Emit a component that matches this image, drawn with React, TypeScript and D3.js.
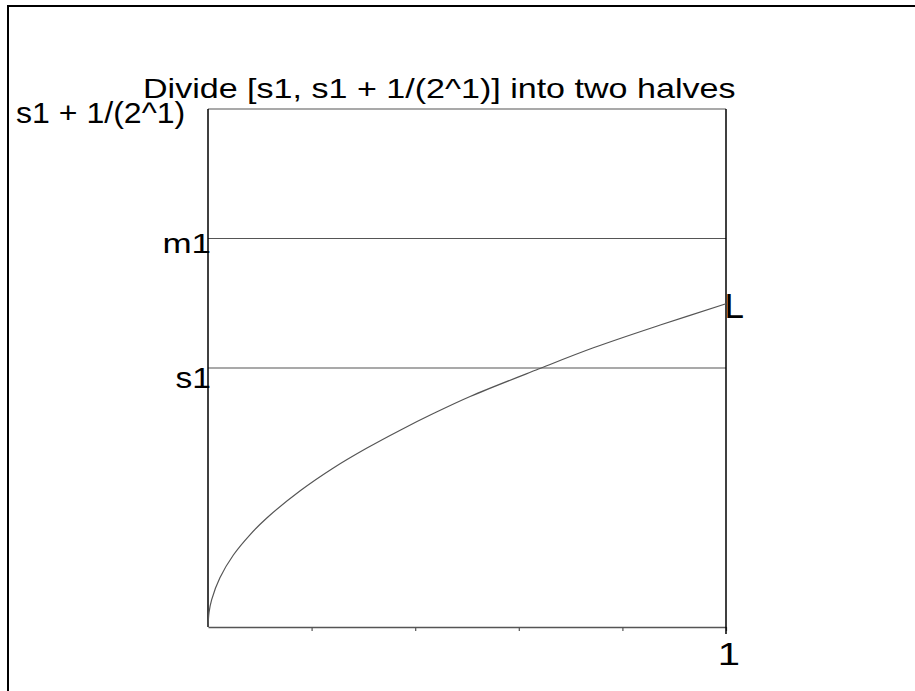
import { useEffect, useRef } from 'react';
import * as d3 from 'd3';

// curve L (x in [0,1], value in units of the y axis)
const curveX = [0, 0.002, 0.0071, 0.023, 0.049, 0.081, 0.113, 0.178, 0.242, 0.306, 0.371, 0.435, 0.506, 0.638, 0.744, 0.873, 1];
const curveY = [0, 0.028, 0.053, 0.095, 0.139, 0.178, 0.21, 0.263, 0.307, 0.345, 0.38, 0.412, 0.445, 0.498, 0.539, 0.583, 0.624];

// horizontal reference levels
const levelNames = ['s1', 'm1'];
const levelValues = [0.5, 0.75];

// y axis labels
const yLabelNames = ['s1', 'm1', 's1 + 1/(2^1)'];
const yLabelValues = [0.5, 0.75, 1];

// x ticks
const xTickValues = [0.2, 0.4, 0.6, 0.8, 1];
const xTickLabels = ['', '', '', '', '1'];

const title = 'Divide [s1, s1 + 1/(2^1)] into two halves';
const curveName = 'L';

const FONT = 'Arial, "Liberation Sans", Helvetica, sans-serif';

type Sel = d3.Selection<SVGSVGElement | null, unknown, null, undefined>;

// text in the original is drawn a bit wider than tall, hence the x-scale
function addText(root: Sel, str: string, x: number, y: number, size: number, sx: number, anchor = 'start') {
  root.append('text')
    .attr('transform', `translate(${x},${y}) scale(${sx},1)`)
    .attr('text-anchor', anchor)
    .attr('fill', '#000')
    .style('font-family', FONT)
    .style('font-size', `${size}px`)
    .text(str);
}

export default function App() {
  const svgRef = useRef<SVGSVGElement>(null);
  const width = 915;
  const height = 691;

  useEffect(() => {
    const root = d3.select(svgRef.current) as Sel;
    root.selectAll('*').remove();

    const left = 208, right = 726, top = 109, bottom = 627;

    const x = d3.scaleLinear().domain([0, 1]).range([left, right]);
    const y = d3.scaleLinear().domain([0, 1]).range([bottom, top]);

    // outer frame (runs past the window edges)
    root.append('rect')
      .attr('x', 8).attr('y', 6)
      .attr('width', 1200).attr('height', 1200)
      .attr('fill', 'none')
      .attr('stroke', '#000')
      .attr('stroke-width', 2);

    // top edge of plot box
    root.append('line')
      .attr('x1', left).attr('x2', right)
      .attr('y1', top).attr('y2', top)
      .attr('stroke', '#555').attr('stroke-width', 1.2);

    // levels
    root.selectAll('line.level')
      .data(levelValues)
      .enter()
      .append('line')
      .attr('class', 'level')
      .attr('x1', left).attr('x2', right)
      .attr('y1', d => y(d)).attr('y2', d => y(d))
      .attr('stroke', '#555').attr('stroke-width', 1.2);

    // bottom axis, labels added separately
    const xAxis = d3.axisBottom(x)
      .tickValues(xTickValues)
      .tickSize(4)
      .tickSizeOuter(0)
      .tickFormat(() => '');

    const gx = root.append('g')
      .attr('transform', `translate(0,${bottom})`)
      .call(xAxis);
    gx.select('.domain').attr('stroke', '#555').attr('stroke-width', 1.5);
    gx.selectAll('.tick line').attr('stroke', '#555').attr('stroke-width', 1.2);

    xTickValues.forEach((v, i) => {
      if (xTickLabels[i]) addText(root, xTickLabels[i], x(v) + 3, bottom + 38, 32, 1.25, 'middle');
    });

    // left and right edges
    root.append('line')
      .attr('x1', left).attr('x2', left)
      .attr('y1', top).attr('y2', bottom)
      .attr('stroke', '#000').attr('stroke-width', 1.5);
    root.append('line')
      .attr('x1', right).attr('x2', right)
      .attr('y1', top).attr('y2', bottom + 7)
      .attr('stroke', '#000').attr('stroke-width', 1.5);

    // curve
    const pts = curveX.map((v, i) => [v, curveY[i]] as [number, number]);
    const line = d3.line<[number, number]>()
      .x(d => x(d[0]))
      .y(d => y(d[1]))
      .curve(d3.curveCatmullRom.alpha(0.5));

    root.append('path')
      .datum(pts)
      .attr('fill', 'none')
      .attr('stroke', '#555')
      .attr('stroke-width', 1.2)
      .attr('d', line);

    // y labels
    const labelDy = [20, 14, 14];
    const labelSize = [30, 28, 30];
    const labelSx = [1.12, 1.25, 1.07];
    yLabelNames.forEach((name, i) => {
      if (i === 2) addText(root, name, 16, y(yLabelValues[i]) + labelDy[i], labelSize[i], labelSx[i]);
      else addText(root, name, left + 3, y(yLabelValues[i]) + labelDy[i], labelSize[i], labelSx[i], 'end');
    });

    // curve label
    addText(root, curveName, x(1) - 1.5, y(curveY[curveY.length - 1]) + 14, 35, 1);

    // title
    addText(root, title, 143, 98, 28, 1.217);
  }, []);

  return (
    <svg
      ref={svgRef}
      width={width}
      height={height}
      style={{ position: 'absolute', left: 0, top: 0, background: '#fff' }}
    />
  );
}
